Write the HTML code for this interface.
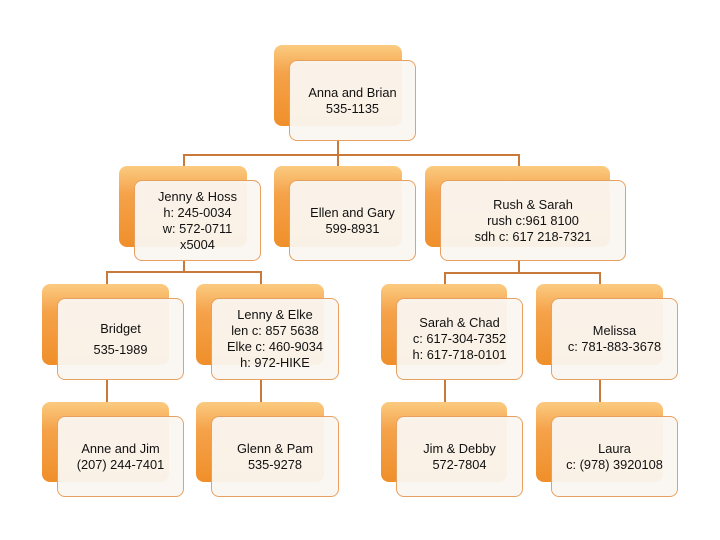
<!DOCTYPE html>
<html><head><style>
body{margin:0;width:720px;height:540px;background:#fff;position:relative;overflow:hidden;font-family:"Liberation Sans",sans-serif;}
.o{position:absolute;border-radius:8px;background:linear-gradient(#fbcb80,#f5a24a 35%,#ef8f2a);}
.w{position:absolute;border-radius:8px;background:rgba(250,246,242,0.94);border:1.5px solid #e8a060;box-sizing:border-box;display:flex;align-items:center;justify-content:center;text-align:center;font-size:12.8px;line-height:16px;color:#111;}
.l{position:absolute;background:#c97a3a;}
</style></head><body>
<div class="l" style="left:337px;top:140px;width:2px;height:16px"></div>
<div class="l" style="left:183px;top:154px;width:337px;height:2px"></div>
<div class="l" style="left:183px;top:154px;width:2px;height:14px"></div>
<div class="l" style="left:337px;top:154px;width:2px;height:14px"></div>
<div class="l" style="left:518px;top:154px;width:2px;height:14px"></div>
<div class="l" style="left:183px;top:261px;width:2px;height:12px"></div>
<div class="l" style="left:106px;top:271px;width:156px;height:2px"></div>
<div class="l" style="left:106px;top:271px;width:2px;height:14px"></div>
<div class="l" style="left:260px;top:271px;width:2px;height:14px"></div>
<div class="l" style="left:518px;top:261px;width:2px;height:12px"></div>
<div class="l" style="left:444px;top:272px;width:156px;height:2px"></div>
<div class="l" style="left:444px;top:272px;width:2px;height:14px"></div>
<div class="l" style="left:599px;top:272px;width:2px;height:14px"></div>
<div class="l" style="left:106px;top:380px;width:2px;height:23px"></div>
<div class="l" style="left:260px;top:380px;width:2px;height:23px"></div>
<div class="l" style="left:444px;top:380px;width:2px;height:23px"></div>
<div class="l" style="left:599px;top:380px;width:2px;height:23px"></div>

<div class="o" style="left:274px;top:45px;width:128px;height:81px"></div>
<div class="w" style="left:289px;top:60px;width:127px;height:81px">Anna and Brian<br>535-1135</div>

<div class="o" style="left:119px;top:166px;width:128px;height:81px"></div>
<div class="w" style="left:134px;top:180px;width:127px;height:81px">Jenny &amp; Hoss<br>h: 245-0034<br>w: 572-0711<br>x5004</div>
<div class="o" style="left:274px;top:166px;width:128px;height:81px"></div>
<div class="w" style="left:289px;top:180px;width:127px;height:81px">Ellen and Gary<br>599-8931</div>
<div class="o" style="left:425px;top:166px;width:185px;height:81px"></div>
<div class="w" style="left:440px;top:180px;width:186px;height:81px">Rush &amp; Sarah<br>rush c:961 8100<br>sdh c: 617 218-7321</div>

<div class="o" style="left:42px;top:284px;width:127px;height:81px"></div>
<div class="w" style="left:57px;top:298px;width:127px;height:82px;line-height:21px">Bridget<br>535-1989</div>
<div class="o" style="left:196px;top:284px;width:128px;height:81px"></div>
<div class="w" style="left:211px;top:298px;width:128px;height:82px">Lenny &amp; Elke<br>len c: 857 5638<br>Elke c: 460-9034<br>h: 972-HIKE</div>
<div class="o" style="left:381px;top:284px;width:126px;height:81px"></div>
<div class="w" style="left:396px;top:298px;width:127px;height:82px">Sarah &amp; Chad<br>c: 617-304-7352<br>h: 617-718-0101</div>
<div class="o" style="left:536px;top:284px;width:127px;height:81px"></div>
<div class="w" style="left:551px;top:298px;width:127px;height:82px">Melissa<br>c: 781-883-3678</div>

<div class="o" style="left:42px;top:402px;width:127px;height:80px"></div>
<div class="w" style="left:57px;top:416px;width:127px;height:81px">Anne and Jim<br>(207) 244-7401</div>
<div class="o" style="left:196px;top:402px;width:128px;height:80px"></div>
<div class="w" style="left:211px;top:416px;width:128px;height:81px">Glenn &amp; Pam<br>535-9278</div>
<div class="o" style="left:381px;top:402px;width:126px;height:80px"></div>
<div class="w" style="left:396px;top:416px;width:127px;height:81px">Jim &amp; Debby<br>572-7804</div>
<div class="o" style="left:536px;top:402px;width:127px;height:80px"></div>
<div class="w" style="left:551px;top:416px;width:127px;height:81px">Laura<br>c: (978) 3920108</div>
</body></html>
